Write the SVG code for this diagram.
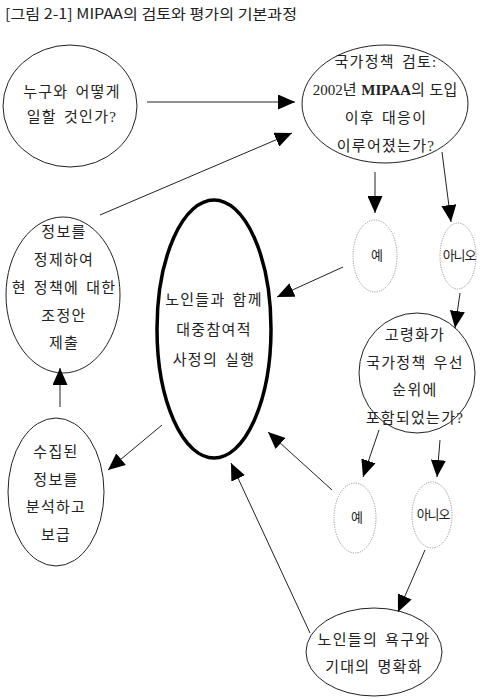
<svg xmlns="http://www.w3.org/2000/svg" width="483" height="700" viewBox="0 0 483 700">
<style>
.bg{fill:#ffffff}
.title{font-family:"Noto Sans CJK KR","DejaVu Sans",sans-serif;font-size:14px;fill:#222}
.node{fill:#ffffff;stroke:#222;stroke-width:1}
.main{fill:#ffffff;stroke:#000;stroke-width:3.5}
.dot{fill:#ffffff;stroke:#999;stroke-width:1;stroke-dasharray:1.2 1.2}
.t{font-family:"Liberation Serif","Noto Sans CJK KR",serif;font-size:15px;fill:#222;text-anchor:middle;letter-spacing:1.3px;word-spacing:2px}
.s{font-family:"Noto Sans CJK KR","DejaVu Sans",sans-serif;font-size:13px;fill:#222;text-anchor:middle}
.c{stroke:#222;stroke-width:1;fill:none;marker-end:url(#ah)}
</style>
<defs>
<marker id="ah" markerUnits="userSpaceOnUse" markerWidth="17" markerHeight="15" refX="17" refY="7.5" orient="auto">
<path d="M0,0 L17,7.5 L0,15 Z" fill="#000"/>
</marker>
</defs>
<rect class="bg" x="0" y="0" width="483" height="700"/>
<text class="title" x="5" y="19" textLength="292" lengthAdjust="spacingAndGlyphs">[그림 2-1] MIPAA의 검토와 평가의 기본과정</text>

<g id="n1">
<ellipse class="node" cx="70" cy="106" rx="67" ry="61"/>
<text class="t" x="72" y="97">누구와 어떻게</text>
<text class="t" x="72" y="122">일할 것인가?</text>
</g>
<g id="n2">
<ellipse class="node" cx="385" cy="104" rx="83" ry="59"/>
<text class="t" x="386" y="67">국가정책 검토:</text>
<text class="t" x="385" y="95" style="letter-spacing:0;word-spacing:1px">2002년 <tspan font-weight="bold">MIPAA</tspan>의 도입</text>
<text class="t" x="386" y="123">이후 대응이</text>
<text class="t" x="386" y="151">이루어졌는가?</text>
</g>
<g id="n3">
<ellipse class="node" cx="63" cy="295" rx="57" ry="78"/>
<text class="t" x="64" y="237">정보를</text>
<text class="t" x="64" y="265">정제하여</text>
<text class="t" x="64" y="293">현 정책에 대한</text>
<text class="t" x="64" y="321">조정안</text>
<text class="t" x="64" y="348">제출</text>
</g>
<g id="n4">
<ellipse class="main" cx="214" cy="329" rx="57" ry="129"/>
<text class="t" x="214" y="305">노인들과 함께</text>
<text class="t" x="214" y="335">대중참여적</text>
<text class="t" x="214" y="365">사정의 실행</text>
</g>
<g id="y1">
<ellipse class="dot" cx="375" cy="256" rx="22" ry="36"/>
<text class="s" x="377" y="260">예</text>
</g>
<g id="no1">
<ellipse class="dot" cx="458" cy="256" rx="18" ry="33"/>
<text class="s" x="459" y="260" letter-spacing="-1.2">아니오</text>
</g>
<g id="n5">
<ellipse class="node" cx="417" cy="373" rx="58" ry="60"/>
<text class="t" x="415" y="340">고령화가</text>
<text class="t" x="415" y="368">국가정책 우선</text>
<text class="t" x="415" y="395">순위에</text>
<text class="t" x="415" y="423">포함되었는가?</text>
</g>
<g id="n6">
<ellipse class="node" cx="56" cy="492" rx="48" ry="74"/>
<text class="t" x="56" y="457">수집된</text>
<text class="t" x="56" y="485">정보를</text>
<text class="t" x="56" y="512">분석하고</text>
<text class="t" x="56" y="540">보급</text>
</g>
<g id="y2">
<ellipse class="dot" cx="355" cy="518" rx="21" ry="35"/>
<text class="s" x="357" y="522">예</text>
</g>
<g id="no2">
<ellipse class="dot" cx="432" cy="515" rx="20" ry="33"/>
<text class="s" x="433" y="519" letter-spacing="-1.2">아니오</text>
</g>
<g id="n7">
<ellipse class="node" cx="374" cy="652" rx="68" ry="44"/>
<text class="t" x="374" y="645">노인들의 욕구와</text>
<text class="t" x="374" y="672">기대의 명확화</text>
</g>

<g id="connectors">
<line class="c" x1="147" y1="102" x2="295" y2="102"/>
<line class="c" x1="100" y1="215" x2="292" y2="133"/>
<line class="c" x1="60" y1="407" x2="60" y2="368"/>
<line class="c" x1="375" y1="172" x2="375" y2="213"/>
<line class="c" x1="442" y1="152" x2="451" y2="222"/>
<line class="c" x1="343" y1="267" x2="277" y2="297"/>
<line class="c" x1="460" y1="293" x2="455" y2="328"/>
<line class="c" x1="162" y1="425" x2="108" y2="470"/>
<line class="c" x1="379" y1="430" x2="363" y2="477"/>
<line class="c" x1="440" y1="440" x2="437" y2="477"/>
<line class="c" x1="332" y1="490" x2="268" y2="432"/>
<line class="c" x1="310" y1="633" x2="231" y2="463"/>
<line class="c" x1="425" y1="550" x2="398" y2="612"/>
</g>
</svg>
